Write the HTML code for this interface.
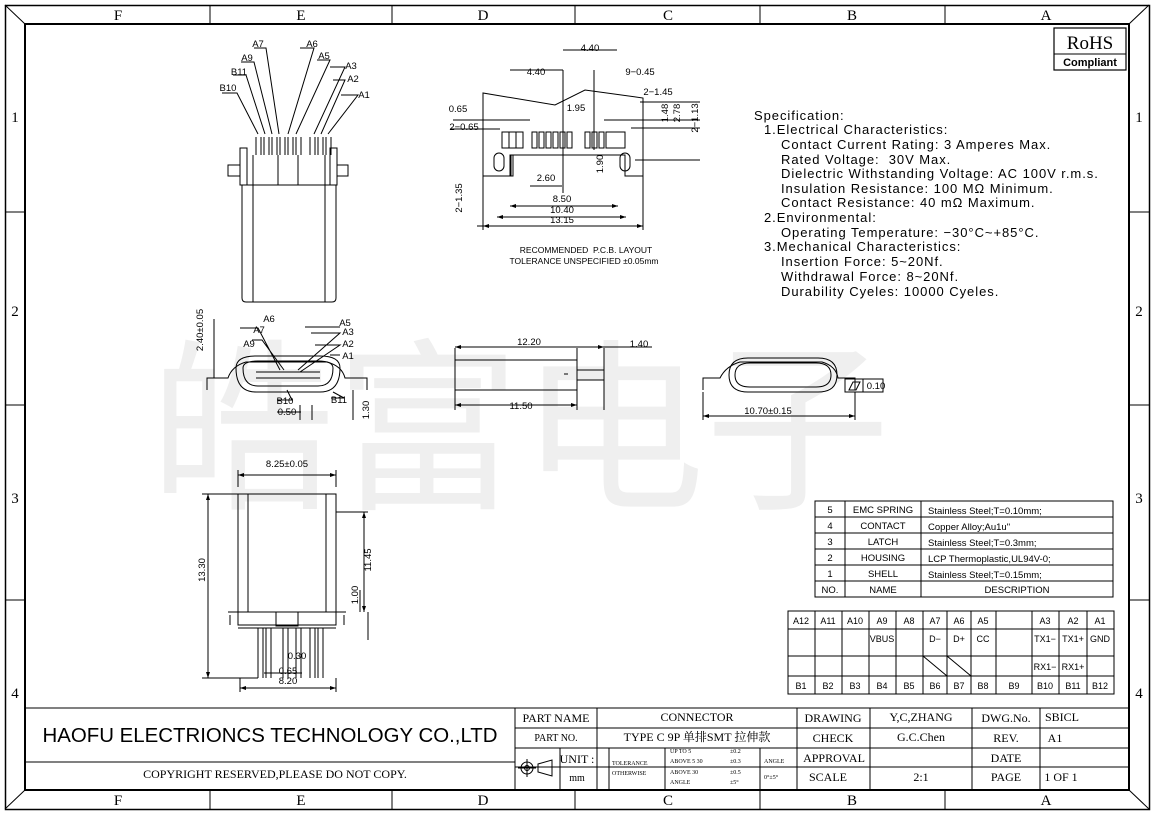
<!DOCTYPE html>
<html><head><meta charset="utf-8"><style>
html,body{margin:0;padding:0;background:#fff}
svg{display:block}
text{font-family:"Liberation Sans","Noto Sans CJK SC",sans-serif;fill:#000}
.s{font-family:"Liberation Serif","Noto Serif CJK SC",serif}
</style></head><body>
<svg width="1154" height="814" viewBox="0 0 1154 814" xmlns="http://www.w3.org/2000/svg">
<text x="150" y="495" font-size="185" style="fill:#efefef;font-family:'Noto Sans CJK SC',sans-serif">皓富电子</text>
<g fill="none" stroke="#000">
<rect x="5.5" y="5.5" width="1144" height="804" stroke-width="1.5"/>
<rect x="25" y="24" width="1104" height="766" stroke-width="2"/>
<path d="M210 5V24M392 5V24M575 5V24M760 5V24M945 5V24M210 790V809M392 790V809M575 790V809M760 790V809M945 790V809"/>
<path d="M5 212H25M5 405H25M5 600H25M1129 212H1149M1129 405H1149M1129 600H1149"/>
<path d="M5 5L25 24M1149 5L1129 24M5 809L25 790M1149 809L1129 790"/>
<path d="M25 708H1129M25 762H515M515 708V790M597 708V790M797 708V790M870 708V790M972 708V790M1040 708V790M515 728H1129M515 748H1129M560 767H797M870 767H1129M560 748V790M515 767H560M597 748V790M609 748V790M665 748V790M760 748V790M797 767H870"/>
<rect x="1054" y="28" width="72" height="42" stroke-width="1.2"/>
<path d="M1054 54H1126"/>
<rect x="815" y="501" width="298" height="96"/>
<path d="M815 517H1113M815 533H1113M815 549H1113M815 565H1113M815 581H1113M845 501V597M921 501V597"/>
<rect x="788" y="611" width="326" height="83"/>
<path d="M788 629H1114M788 656H1114M788 676H1114"/>
<path d="M815 611V694M842 611V694M869 611V694M896 611V694M923 611V694M947 611V694M971 611V694M996 611V694M1032 611V694M1059 611V694M1087 611V694"/>
<path d="M923 656L947 676M947 656L971 676"/>
</g>
<g font-size="15" class="s" text-anchor="middle">
<text class="s" x="118" y="20">F</text><text class="s" x="301" y="20">E</text><text class="s" x="483" y="20">D</text><text class="s" x="668" y="20">C</text><text class="s" x="852" y="20">B</text><text class="s" x="1046" y="20">A</text>
<text class="s" x="118" y="805">F</text><text class="s" x="301" y="805">E</text><text class="s" x="483" y="805">D</text><text class="s" x="668" y="805">C</text><text class="s" x="852" y="805">B</text><text class="s" x="1046" y="805">A</text>
<text class="s" x="15" y="122">1</text><text class="s" x="15" y="316">2</text><text class="s" x="15" y="503">3</text><text class="s" x="15" y="698">4</text>
<text class="s" x="1139" y="122">1</text><text class="s" x="1139" y="316">2</text><text class="s" x="1139" y="503">3</text><text class="s" x="1139" y="698">4</text>
</g>
<text class="s" x="1090" y="49" font-size="19" text-anchor="middle">RoHS</text>
<text x="1090" y="66" font-size="11" font-weight="bold" text-anchor="middle">Compliant</text>
<g font-size="13" letter-spacing="0.95">
<text x="754" y="120">Specification:</text>
<text x="764" y="134">1.Electrical Characteristics:</text>
<text x="781" y="149">Contact Current Rating: 3 Amperes Max.</text>
<text x="781" y="164">Rated Voltage:&#160;&#160;30V Max.</text>
<text x="781" y="178">Dielectric Withstanding Voltage: AC 100V r.m.s.</text>
<text x="781" y="193">Insulation Resistance: 100 MΩ Minimum.</text>
<text x="781" y="207">Contact Resistance: 40 mΩ Maximum.</text>
<text x="764" y="222">2.Environmental:</text>
<text x="781" y="237">Operating Temperature: −30°C~+85°C.</text>
<text x="764" y="251">3.Mechanical Characteristics:</text>
<text x="781" y="266">Insertion Force: 5~20Nf.</text>
<text x="781" y="281">Withdrawal Force: 8~20Nf.</text>
<text x="781" y="296">Durability Cyeles: 10000 Cyeles.</text>
</g>
<g font-size="9.5">
<text x="830" y="513" text-anchor="middle">5</text><text x="883" y="513" text-anchor="middle">EMC SPRING</text><text x="928" y="514">Stainless Steel;T=0.10mm;</text>
<text x="830" y="529" text-anchor="middle">4</text><text x="883" y="529" text-anchor="middle">CONTACT</text><text x="928" y="530">Copper Alloy;Au1u"</text>
<text x="830" y="545" text-anchor="middle">3</text><text x="883" y="545" text-anchor="middle">LATCH</text><text x="928" y="546">Stainless Steel;T=0.3mm;</text>
<text x="830" y="561" text-anchor="middle">2</text><text x="883" y="561" text-anchor="middle">HOUSING</text><text x="928" y="562">LCP Thermoplastic,UL94V-0;</text>
<text x="830" y="577" text-anchor="middle">1</text><text x="883" y="577" text-anchor="middle">SHELL</text><text x="928" y="578">Stainless Steel;T=0.15mm;</text>
<text x="830" y="593" text-anchor="middle">NO.</text><text x="883" y="593" text-anchor="middle">NAME</text><text x="1017" y="593" text-anchor="middle">DESCRIPTION</text>
</g>
<g font-size="9" text-anchor="middle">
<text x="801" y="624">A12</text><text x="828" y="624">A11</text><text x="855" y="624">A10</text><text x="882" y="624">A9</text><text x="909" y="624">A8</text><text x="935" y="624">A7</text><text x="959" y="624">A6</text><text x="983" y="624">A5</text><text x="1045" y="624">A3</text><text x="1073" y="624">A2</text><text x="1100" y="624">A1</text>
<text x="882" y="642">VBUS</text><text x="935" y="642">D−</text><text x="959" y="642">D+</text><text x="983" y="642">CC</text><text x="1045" y="642">TX1−</text><text x="1073" y="642">TX1+</text><text x="1100" y="642">GND</text>
<text x="1045" y="670">RX1−</text><text x="1073" y="670">RX1+</text>
<text x="801" y="689">B1</text><text x="828" y="689">B2</text><text x="855" y="689">B3</text><text x="882" y="689">B4</text><text x="909" y="689">B5</text><text x="935" y="689">B6</text><text x="959" y="689">B7</text><text x="983" y="689">B8</text><text x="1014" y="689">B9</text><text x="1045" y="689">B10</text><text x="1073" y="689">B11</text><text x="1100" y="689">B12</text>
</g>
<text x="270" y="742" font-size="20" text-anchor="middle" textLength="455" lengthAdjust="spacingAndGlyphs">HAOFU ELECTRIONCS TECHNOLOGY CO.,LTD</text>
<text class="s" x="275" y="778" font-size="12" text-anchor="middle">COPYRIGHT RESERVED,PLEASE DO NOT COPY.</text>
<g class="s" font-size="12" text-anchor="middle">
<text class="s" x="556" y="722">PART NAME</text><text class="s" x="697" y="721">CONNECTOR</text><text class="s" x="833" y="722">DRAWING</text><text class="s" x="921" y="721">Y,C,ZHANG</text><text class="s" x="1006" y="722">DWG.No.</text><text class="s" x="1062" y="721">SBICL</text>
<text class="s" x="556" y="741" font-size="10">PART NO.</text><text class="s" x="697" y="741">TYPE C 9P 单排SMT 拉伸款</text><text class="s" x="833" y="742">CHECK</text><text class="s" x="921" y="741">G.C.Chen</text><text class="s" x="1006" y="742">REV.</text><text class="s" x="1055" y="742">A1</text>
<text class="s" x="577" y="763">UNIT :</text><text class="s" x="577" y="781" font-size="10">mm</text>
<text class="s" x="834" y="762">APPROVAL</text><text class="s" x="1006" y="762">DATE</text>
<text class="s" x="828" y="781">SCALE</text><text class="s" x="921" y="781">2:1</text><text class="s" x="1006" y="781">PAGE</text><text class="s" x="1061" y="781">1 OF 1</text>
</g>
<g class="s" font-size="6">
<text class="s" x="612" y="765">TOLERANCE</text><text class="s" x="612" y="775">OTHERWISE</text>
<text class="s" x="670" y="753">UP TO 5</text><text class="s" x="730" y="753">±0.2</text>
<text class="s" x="670" y="763">ABOVE 5 30</text><text class="s" x="730" y="763">±0.3</text>
<text class="s" x="670" y="774">ABOVE 30</text><text class="s" x="730" y="774">±0.5</text>
<text class="s" x="670" y="784">ANGLE</text><text class="s" x="730" y="784">±5°</text>
<text class="s" x="764" y="763">ANGLE</text><text class="s" x="764" y="779">0°±5°</text>
</g>
<g fill="none" stroke="#000"><circle cx="527" cy="768" r="6"/><circle cx="527" cy="768" r="2.5"/><path d="M518 768H536M527 759V777M538 764L552 760V776L538 772Z"/></g>

<g fill="none" stroke="#000" stroke-width="1">
<path d="M240 155V165H228V176H240V185H337V176H348V165H337V155"/>
<rect x="240" y="148" width="7" height="37"/><rect x="330" y="148" width="7" height="37"/>
<path d="M242 185V298Q242 302 246 302H332Q336 302 336 298V185"/>
<path d="M253 155V302M325 155V302M278 155V185M298 155V185"/>
<path d="M256 137V155M261 137V155M264 137V155M269 137V155M272 137V155M277 137V155M280 137V155M285 137V155M288 137V155M293 137V155M296 137V155M301 137V155M310 137V155M315 137V155M318 137V155M323 137V155M326 137V155M331 137V155"/>
<path d="M222 93H237L258 134M233 75H246L265 134M241 62H254L272 134M254 48H266L279 134M300 48H314L288 134M317 60H330L296 134M330 67H345L314 134M333 80H345L321 134M341 95H358L328 134"/>
<path d="M483 93V176H511V155H513V176H510V155H625V176H643V98L585 90L555 105Z" />
<rect x="502" y="132" width="14" height="16"/><rect x="509" y="132" width="14" height="16"/>
<path d="M532 132h5v16h-5zM539 132h5v16h-5zM546 132h5v16h-5zM553 132h5v16h-5zM560 132h5v16h-5zM567 132h5v16h-5zM585 132h5v16h-5zM592 132h5v16h-5zM599 132h5v16h-5z"/>
<rect x="606" y="132" width="19" height="16"/>
<rect x="494" y="153" width="10" height="18" rx="5"/><rect x="620" y="153" width="10" height="18" rx="5"/>
<path d="M477 226H643M483 176V230M643 176V230M497 217H626M510 206H618M530 186H562M563 70V193M594 70V150M453 120H530M450 129H500M631 128H700M635 160H700M604 120H700M640 102H700"/>
<path d="M510 70H563M563 50H617"/>
<path d="M207 390V378H228Q232 366 246 362H327Q342 366 345 378H367V390"/>
<path d="M236 368Q236 392 256 392H320Q340 392 340 368Q340 356 320 356H256Q236 356 236 368Z"/>
<path d="M243 368Q243 386 258 386H318Q333 386 333 368Q333 361 318 361H258Q243 361 243 368Z"/>
<path d="M256 372H320M256 378H320M214 319V378M240 328H258L280 370M252 340H262L284 370M305 327H340M311 333H340L298 370M315 345H340L300 372M330 355H340M277 400H292L287 390M331 398H344L333 392M277 412H301M300 405V420M312 405V420M353 390V420"/>
<rect x="455" y="360" width="122" height="30"/><path d="M455 348V410M577 348V410M604 348V410M577 370H604V380H577M564 374H568"/>
<path d="M455 347H604M455 405H577M604 347H652M577 395V410"/>
<path d="M703 390V378H720Q726 366 740 362H822Q836 366 838 378H855V390"/>
<path d="M729 375Q729 392 748 392H818Q837 392 837 375Q837 358 818 358H748Q729 358 729 375Z"/>
<path d="M735 375Q735 387 750 387H816Q831 387 831 375Q831 363 816 363H750Q735 363 735 375Z"/>
<path d="M703 392V420M855 392V420M703 416H855"/>
<rect x="845" y="379" width="38" height="13"/><path d="M863 379V392M849 390L853 382H860L856 390Z"/>
<rect x="238" y="494" width="98" height="118"/>
<path d="M248 494V612M326 494V612M238 612V625H336V612M228 612H238M336 612H346M230 615V625M344 615V625M238 628H336"/>
<rect x="276" y="612" width="22" height="14"/>
<path d="M258 628V678M263 628V678M266 628V678M271 628V678M283 628V678M288 628V678M296 628V678M301 628V678M310 628V678M315 628V678M318 628V678M323 628V678"/>
<path d="M238 470V487M336 470V487M238 475H336M202 494H238M202 678H258M208 494V678M368 512H336M368 612V640M364 512V612M360 590V612M240 688H336M240 678V692M336 678V692M264 673H302"/>
</g>
<g fill="#000">
<path d="M483 226l6-2v4zM643 226l-6-2v4zM497 217l6-2v4zM626 217l-6-2v4zM510 206l6-2v4zM618 206l-6-2v4zM238 475l6-2v4zM336 475l-6-2v4zM240 688l6-2v4zM336 688l-6-2v4zM455 347l6-2v4zM604 347l-6-2v4zM455 405l6-2v4zM577 405l-6-2v4zM703 416l6-2v4zM855 416l-6-2v4zM208 494l-2 6h4zM208 678l-2-6h4zM364 512l-2 6h4zM364 612l-2-6h4z"/>
</g>
<g font-size="9.5" text-anchor="middle">
<text x="258" y="47">A7</text><text x="312" y="47">A6</text><text x="247" y="61">A9</text><text x="324" y="59">A5</text><text x="239" y="75">B11</text><text x="351" y="69">A3</text><text x="228" y="91">B10</text><text x="353" y="82">A2</text><text x="364" y="98">A1</text>
<text x="590" y="51">4.40</text><text x="536" y="75">4.40</text><text x="640" y="75">9−0.45</text><text x="658" y="95">2−1.45</text>
<text x="458" y="112">0.65</text><text x="464" y="130">2−0.65</text><text x="576" y="111">1.95</text>
<text x="546" y="181">2.60</text><text x="562" y="202">8.50</text><text x="562" y="213">10.40</text><text x="562" y="223">13.15</text>
<text x="586" y="253" font-size="8.5">RECOMMENDED&#160;&#160;P.C.B. LAYOUT</text><text x="584" y="264" font-size="8.5">TOLERANCE UNSPECIFIED ±0.05mm</text>
<text x="269" y="322">A6</text><text x="259" y="333">A7</text><text x="249" y="347">A9</text><text x="345" y="326">A5</text><text x="348" y="335">A3</text><text x="348" y="347">A2</text><text x="348" y="359">A1</text>
<text x="285" y="404">B10</text><text x="339" y="403">B11</text><text x="287" y="415">0.50</text>
<text x="529" y="345">12.20</text><text x="639" y="347">1.40</text><text x="521" y="409">11.50</text>
<text x="768" y="414">10.70±0.15</text><text x="876" y="389">0.10</text>
<text x="287" y="467">8.25±0.05</text><text x="297" y="659">0.30</text><text x="288" y="674">0.65</text><text x="288" y="684">8.20</text>
</g>
<g font-size="9.5" text-anchor="middle">
<text transform="translate(203,330) rotate(-90)">2.40±0.05</text>
<text transform="translate(369,410) rotate(-90)">1.30</text>
<text transform="translate(205,570) rotate(-90)">13.30</text>
<text transform="translate(371,560) rotate(-90)">11.45</text>
<text transform="translate(358,595) rotate(-90)">1.00</text>
<text transform="translate(462,198) rotate(-90)">2−1.35</text>
<text transform="translate(603,164) rotate(-90)">1.90</text>
<text transform="translate(668,113) rotate(-90)">1.48</text>
<text transform="translate(680,113) rotate(-90)">2.78</text>
<text transform="translate(698,118) rotate(-90)">2−1.13</text>
</g>
</svg>
</body></html>
